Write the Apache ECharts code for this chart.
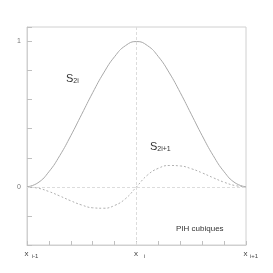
<!DOCTYPE html>
<html><head><meta charset="utf-8">
<script src="https://cdn.jsdelivr.net/npm/echarts@6/dist/echarts.min.js"></script>
<style>html,body{margin:0;padding:0;background:#fff}#c{width:273px;height:273px}</style>
</head><body><div id="c"></div>
<script>
// x positions (x_{i-1} = -1, x_i = 0, x_{i+1} = 1)
var xs = [-1,-0.9,-0.8,-0.7,-0.6,-0.5,-0.4,-0.3,-0.2,-0.1,0,0.1,0.2,0.3,0.4,0.5,0.6,0.7,0.8,0.9,1];
// S_2i values
var s2i = [0,0.028,0.104,0.216,0.352,0.5,0.648,0.784,0.896,0.972,1,0.972,0.896,0.784,0.648,0.5,0.352,0.216,0.104,0.028,0];
// S_2i+1 values
var s2i1 = [0,-0.009,-0.032,-0.063,-0.096,-0.125,-0.144,-0.147,-0.128,-0.081,0,0.081,0.128,0.147,0.144,0.125,0.096,0.063,0.032,0.009,0];
// tick labels
var xTickVals = [-1,0,1];
var xTickSubs = ['i-1','i','i+1'];
var yTickVals = [0,1];

function pairs(x,y){return x.map(function(v,i){return [v,y[i]];});}

var chart = echarts.init(document.getElementById('c'));
chart.setOption({
  animation:false,
  grid:{left:27,top:27,right:27,bottom:28,show:true,borderColor:'#d0d0d0',borderWidth:1},
  xAxis:{type:'value',min:-1,max:1,interval:0.2,
    axisLine:{show:true,onZero:false,lineStyle:{color:'#d0d0d0'}},
    axisTick:{show:true,inside:true,length:4,lineStyle:{color:'#c0c0c0'}},
    splitLine:{show:false},
    axisLabel:{margin:5,interval:0,showMinLabel:true,showMaxLabel:true,
      formatter:function(v){
        for(var k=0;k<xTickVals.length;k++){ if(Math.abs(v-xTickVals[k])<1e-6) return '{p|'+xTickSubs[k]+'}{a|x}{b|'+xTickSubs[k]+'}'; }
        return '';
      },
      rich:{
        p:{fontSize:6,width:11,color:'transparent',fontFamily:'Liberation Sans'},
        a:{fontSize:8,color:'#444',fontFamily:'Liberation Sans',lineHeight:9,verticalAlign:'top'},
        b:{fontSize:6,width:11,align:'left',color:'#444',fontFamily:'Liberation Sans',lineHeight:9,verticalAlign:'bottom',padding:[6,0,0,1]}
      }}
  },
  yAxis:{type:'value',min:-0.4,max:1.1,interval:0.2,
    axisLine:{show:true,onZero:false,lineStyle:{color:'#d0d0d0'}},
    axisTick:{show:true,inside:true,length:5,lineStyle:{color:'#c0c0c0'}},
    splitLine:{show:false},
    axisLabel:{margin:6,fontSize:7,color:'#777',fontFamily:'Liberation Sans',
      formatter:function(v){
        for(var k=0;k<yTickVals.length;k++){ if(Math.abs(v-yTickVals[k])<1e-6) return String(yTickVals[k]); }
        return '';
      }}
  },
  series:[
    {type:'line',data:pairs(xs,s2i),smooth:true,symbol:'none',
      lineStyle:{color:'#a8a8a8',width:1},
      markLine:{silent:true,symbol:'none',label:{show:false},
        lineStyle:{color:'#dcdcdc',type:[3,2],width:1},
        data:[{xAxis:0},{yAxis:0}]}},
    {type:'line',data:pairs(xs,s2i1),smooth:true,symbol:'none',
      lineStyle:{color:'#b0b0b0',width:1,type:[2,2]}}
  ],
  graphic:[
    {type:'text',left:66,top:73,style:{rich:{
        s:{fontSize:11,fill:'#333',fontFamily:'Liberation Sans'},
        t:{fontSize:7,fill:'#333',fontFamily:'Liberation Sans',padding:[6,0,0,0]}},
      text:'{s|S}{t|2i}'}},
    {type:'text',left:150,top:141,style:{rich:{
        s:{fontSize:11,fill:'#333',fontFamily:'Liberation Sans'},
        t:{fontSize:7,fill:'#333',fontFamily:'Liberation Sans',padding:[6,0,0,0]}},
      text:'{s|S}{t|2i+1}'}},
    {type:'text',left:176,top:225,style:{text:'PIH cubiques',fontSize:8,fill:'#333',fontFamily:'Liberation Sans'}}
  ]
});
</script></body></html>
